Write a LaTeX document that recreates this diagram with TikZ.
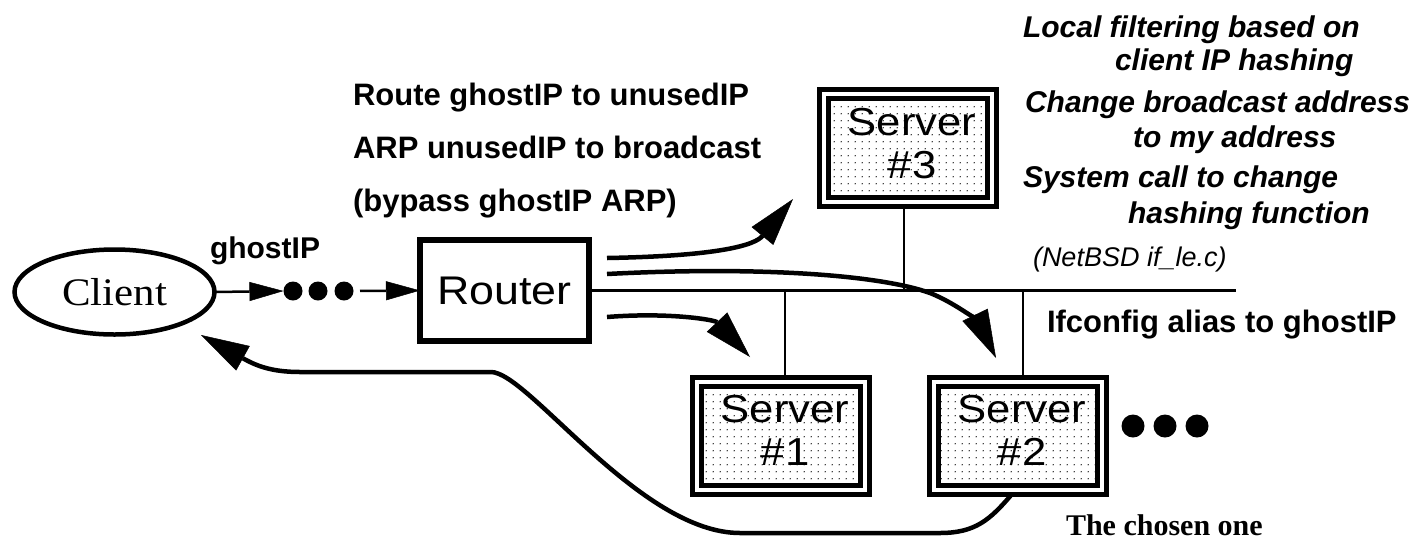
\documentclass[tikz,border=0pt]{standalone}
\usepackage{fontspec}
\setmainfont{Liberation Serif}
\setsansfont{Liberation Sans}
\newfontfamily\srvfont{Liberation Sans}[FakeStretch=1.12]
\newfontfamily\clientfont{Liberation Serif}[FakeStretch=1.1]
\usetikzlibrary{arrows.meta,shapes.geometric,patterns.meta}
\tikzdeclarepattern{
  name=srvdots,
  type=uncolored,
  bounding box={(0pt,0pt) and (6.7pt,6.7pt)},
  tile size={(6.7pt,6.7pt)},
  code={\pgfpathcircle{\pgfpoint{3.35pt}{3.35pt}}{0.75pt}\pgfusepath{fill}}
}
\tikzset{
  every node/.style={inner sep=0pt, outer sep=0pt},
  boldtxt/.style={font=\sffamily\bfseries\fontsize{31}{37}\selectfont, anchor=base west},
  itxt/.style={font=\sffamily\bfseries\itshape\fontsize{30}{36}\selectfont, anchor=base west},
  srvbox/.style={draw, line width=5pt, fill=white, minimum width=177pt, minimum height=117pt},
  srvlabel/.style={font=\srvfont\fontsize{39}{43}\selectfont, align=center, anchor=north},
  blob/.style={circle, fill=black, minimum size=19pt},
  bigblob/.style={circle, fill=black, minimum size=23pt},
  thinarrow/.style={line width=2.5pt, -{Triangle[length=34pt,width=19pt,line width=0.5pt]}},
  bigarrow/.style={line width=4.5pt, -{Triangle[length=48pt,width=28pt,line width=0.5pt]}},
  conn/.style={line width=2.5pt},
  innerdots/.style={line width=5pt, pattern={srvdots}, pattern color=black}
}
\begin{document}
\begin{tikzpicture}[x=1pt,y=-1pt]
\useasboundingbox (0,0) rectangle (1427,542);

% texts
\node[boldtxt] (r1) at (353,105) {Route ghostIP to unusedIP};
\node[boldtxt] (r2) at (353,158) {ARP unusedIP to broadcast};
\node[boldtxt] (r3) at (353,211) {(bypass ghostIP ARP)};
\node[boldtxt, font=\sffamily\bfseries\fontsize{30}{36}\selectfont] (gl) at (210,258) {ghostIP};
\node[boldtxt] (ifc) at (1047,332) {Ifconfig alias to ghostIP};
\node[font=\rmfamily\bfseries\fontsize{30}{36}\selectfont, anchor=base west] (chosen) at (1066,535) {The chosen one};

\node[itxt] (l1) at (1023,37) {Local filtering based on};
\node[itxt] (l2) at (1115,70) {client IP hashing};
\node[itxt] (l3) at (1025,112) {Change broadcast address};
\node[itxt] (l4) at (1133,147) {to my address};
\node[itxt] (l5) at (1023,187) {System call to change};
\node[itxt] (l6) at (1128,223) {hashing function};
\node[font=\sffamily\itshape\fontsize{27}{32}\selectfont, anchor=base west] (l7) at (1033,266) {(NetBSD if\_le.c)};

% client and router
\node[ellipse, draw, line width=4.5pt, minimum width=200pt, minimum height=85pt,
      font=\clientfont\fontsize{39}{44}\selectfont] (client) at (114.5,292) {Client};
\node[blob] (d1) at (293,291) {};
\node[blob] (d2) at (318,291) {};
\node[blob] (d3) at (344,291) {};
\node[draw, line width=6pt, minimum width=169pt, minimum height=101pt,
      font=\srvfont\fontsize{40}{44}\selectfont] (router) at (504.5,290.5) {Router};

\draw[thinarrow] (client.east) -- (d1.west);
\draw[thinarrow, shorten <=6.5pt] (d3.east) -- (router.west);

% servers
\node[srvbox] (s3) at (908,148) {};
\node[srvbox] (s1) at (781,435.5) {};
\node[srvbox] (s2) at (1018,435.5) {};
\foreach \s in {s1,s2,s3}{
  \draw[innerdots] ([shift={(9pt,-9pt)}]\s.north west) rectangle ([shift={(-9pt,9pt)}]\s.south east);
}
\node[srvlabel] (t3) at ([xshift=4pt,yshift=-18.5pt]s3.north) {Server\\\#3};
\node[srvlabel] (t1) at ([xshift=4pt,yshift=-18.5pt]s1.north) {Server\\\#1};
\node[srvlabel] (t2) at ([xshift=4pt,yshift=-18.5pt]s2.north) {Server\\\#2};

\node[bigblob] (e1) at (1133,426) {};
\node[bigblob] (e2) at (1165,426) {};
\node[bigblob] (e3) at (1197,426) {};

% bus
\coordinate (busend) at (1236,290.5);
\draw[conn] (router.east) -- (busend);
\draw[conn] ([xshift=-4pt]s3.south) -- ([xshift=-4pt]s3.south |- busend);
\draw[conn] ([xshift=4pt]s1.north) -- ([xshift=4pt]s1.north |- busend);
\draw[conn] ([xshift=5pt]s2.north) -- ([xshift=5pt]s2.north |- busend);

% arrows from router
\coordinate (a3) at (607,258);
\coordinate (a2) at (607,274);
\coordinate (a1) at (607,317);
\coordinate (tip3) at (793,199);
\coordinate (tip2) at (996,358);
\coordinate (tip1) at (750,357);
\coordinate (tipc) at (201,335);
\draw[bigarrow] (a3) .. controls (720,256) and (755,245) .. (tip3);
\draw[bigarrow] (a1) .. controls (670,312) and (715,320) .. (tip1);
\draw[bigarrow] (a2) .. controls (760,266) and (880,275) .. (930,293) .. controls (960,305) and (980,325) .. (tip2);

% return path
\draw[bigarrow] ([xshift=-6pt]s2.south) .. controls (990,520) and (975,533) .. (940,533)
  -- (740,533) .. controls (640,533) and (528,372) .. (491,372)
  -- (300,372) .. controls (270,372) and (255,365) .. (tipc);
\end{tikzpicture}
\end{document}
